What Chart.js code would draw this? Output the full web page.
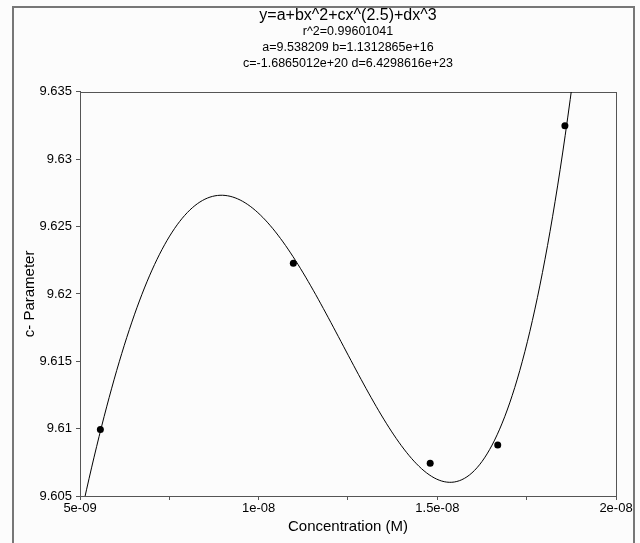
<!DOCTYPE html>
<html>
<head>
<meta charset="utf-8">
<script src="https://cdn.jsdelivr.net/npm/chart.js@4.4.0/dist/chart.umd.min.js"></script>
<style>
  html, body { margin: 0; padding: 0; background: #fcfcfc; }
  #wrap { width: 640px; height: 543px; }
</style>
</head>
<body>
<div id="wrap"><canvas id="myChart" width="640" height="543"></canvas></div>
<script>
// measured points
const concentrations = [5.57e-9, 1.097e-8, 1.48e-8, 1.669e-8, 1.857e-8];
const cParameter = [9.60994, 9.62228, 9.60743, 9.60879, 9.63248];

// fit y = a + b x^2 + c x^2.5 + d x^3 (coefficients from the chart title)
const fitCoefficients = [9.538209, 1.1312865e16, -1.6865012e20, 6.4298616e23];
const curveFrom = 4.9e-9;
const curveTo = 1.9e-8;
const curveSteps = 200;

const xTickValues = [5e-9, 7.5e-9, 1e-8, 1.25e-8, 1.5e-8, 1.75e-8, 2e-8];
const xTickLabels = ["5e-09", "", "1e-08", "", "1.5e-08", "", "2e-08"];
const yTickValues = [9.605, 9.61, 9.615, 9.62, 9.625, 9.63, 9.635];
const yTickLabels = ["9.605", "9.61", "9.615", "9.62", "9.625", "9.63", "9.635"];

const titleLine = "y=a+bx^2+cx^(2.5)+dx^3";
const subtitleLines = ["r^2=0.99601041", "a=9.538209 b=1.1312865e+16", "c=-1.6865012e+20 d=6.4298616e+23"];

const fontFamily = "'Liberation Sans', Arial, sans-serif";

function fitValue(x) {
  const [a, b, c, d] = fitCoefficients;
  return a + b * x * x + c * Math.pow(x, 2.5) + d * x * x * x;
}

const curvePoints = [];
for (let i = 0; i <= curveSteps; i++) {
  const x = curveFrom + (curveTo - curveFrom) * i / curveSteps;
  curvePoints.push({x: x, y: fitValue(x)});
}

const framePlugin = {
  id: 'frames',
  beforeDraw(chart) {
    const ctx = chart.ctx;
    ctx.save();
    ctx.fillStyle = '#fcfcfc';
    ctx.fillRect(0, 0, chart.width, chart.height);
    ctx.restore();
  },
  beforeDatasetsDraw(chart) {
    const {ctx, chartArea: a} = chart;
    ctx.save();
    ctx.strokeStyle = '#555';
    ctx.lineWidth = 1;
    ctx.strokeRect(Math.round(a.left) + 0.5, Math.round(a.top) + 0.5,
      Math.round(a.right - a.left), Math.round(a.bottom - a.top));
    ctx.restore();
  },
  afterDraw(chart) {
    const ctx = chart.ctx;
    ctx.save();
    ctx.strokeStyle = '#777';
    ctx.lineWidth = 2;
    ctx.strokeRect(13, 7, 621, 545);
    ctx.restore();
  }
};

new Chart("myChart", {
  type: "scatter",
  data: {
    datasets: [{
      data: curvePoints,
      showLine: true,
      borderColor: '#000',
      borderWidth: 1,
      pointRadius: 0,
      tension: 0
    }, {
      data: concentrations.map((x, i) => ({x: x, y: cParameter[i]})),
      backgroundColor: '#000',
      borderWidth: 0,
      pointRadius: 3.5
    }]
  },
  options: {
    responsive: false,
    animation: false,
    layout: {padding: {top: 0, right: 24, left: 0, bottom: 0}},
    plugins: {
      legend: {display: false},
      tooltip: {enabled: false},
      title: {
        display: true,
        text: titleLine,
        fullSize: false,
        color: '#000',
        font: {family: fontFamily, size: 16, weight: 'normal', lineHeight: 1},
        padding: {top: 8, bottom: 0}
      },
      subtitle: {
        display: true,
        text: subtitleLines,
        fullSize: false,
        color: '#000',
        font: {family: fontFamily, size: 12.5, weight: 'normal', lineHeight: 1.25},
        padding: {top: 0, bottom: 21}
      }
    },
    scales: {
      x: {
        type: 'linear',
        min: 5e-9,
        max: 2e-8,
        afterFit(scale) { scale.height = 47; },
        afterBuildTicks(scale) { scale.ticks = xTickValues.map(v => ({value: v})); },
        grid: {drawOnChartArea: false, drawTicks: true, tickLength: 4, color: '#555'},
        border: {display: true, color: '#555'},
        ticks: {
          color: '#000',
          padding: 1,
          maxRotation: 0,
          autoSkip: false,
          font: {family: fontFamily, size: 13},
          callback: (v, i) => xTickLabels[i]
        },
        title: {
          display: true,
          text: "Concentration (M)",
          color: '#000',
          font: {family: fontFamily, size: 15},
          padding: {top: 0, bottom: 7}
        }
      },
      y: {
        type: 'linear',
        min: 9.605,
        max: 9.635,
        afterFit(scale) { scale.width = 80; },
        afterBuildTicks(scale) { scale.ticks = yTickValues.map(v => ({value: v})); },
        grid: {drawOnChartArea: false, drawTicks: true, tickLength: 4, color: '#555'},
        border: {display: true, color: '#555'},
        ticks: {
          color: '#000',
          padding: 4,
          autoSkip: false,
          font: {family: fontFamily, size: 13},
          callback: (v, i) => yTickLabels[i]
        },
        title: {
          display: true,
          text: "c- Parameter",
          color: '#000',
          font: {family: fontFamily, size: 15},
          padding: {top: 21, bottom: 0}
        }
      }
    }
  },
  plugins: [framePlugin]
});
</script>
</body>
</html>
